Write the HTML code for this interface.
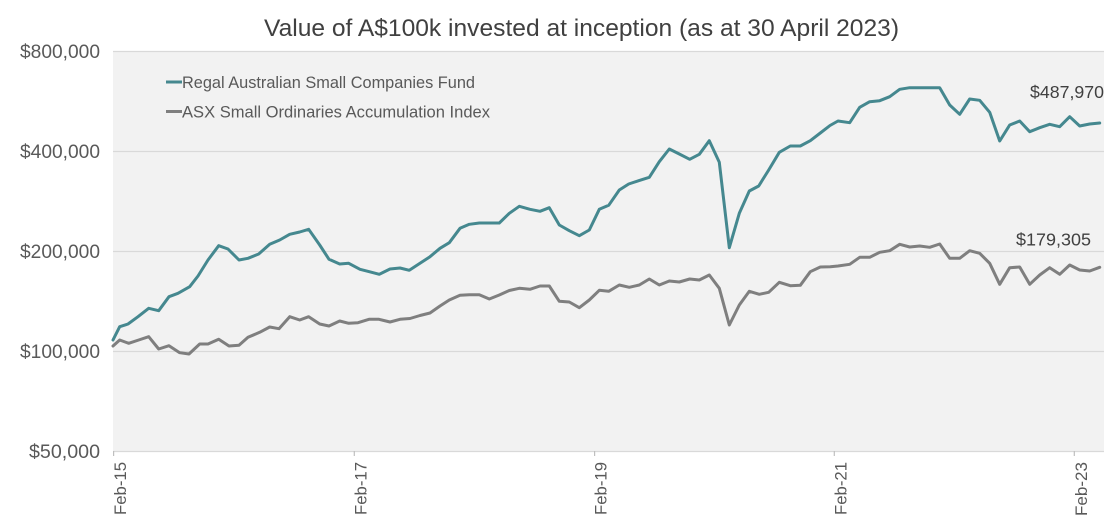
<!DOCTYPE html>
<html>
<head>
<meta charset="utf-8">
<style>
  html, body { margin: 0; padding: 0; background: #ffffff; }
  svg { display: block; }
  text { font-family: "Liberation Sans", "DejaVu Sans", sans-serif; }
</style>
</head>
<body>
<svg width="1120" height="527" viewBox="0 0 1120 527" xmlns="http://www.w3.org/2000/svg">
  <rect x="0" y="0" width="1120" height="527" fill="#ffffff"/>
  <!-- plot area -->
  <rect x="113" y="51" width="991" height="400" fill="#F2F2F2"/>
  <g stroke="#D9D9D9" stroke-width="1.2">
    <line x1="113" y1="51.5" x2="1104" y2="51.5"/>
    <line x1="113" y1="151.5" x2="1104" y2="151.5"/>
    <line x1="113" y1="251.5" x2="1104" y2="251.5"/>
    <line x1="113" y1="351.5" x2="1104" y2="351.5"/>
    <line x1="113" y1="451.5" x2="1104" y2="451.5"/>
  </g>
  <!-- ticks -->
  <g stroke="#BFBFBF" stroke-width="1.2">
    <line x1="113.6" y1="451" x2="113.6" y2="456"/>
    <line x1="354.3" y1="451" x2="354.3" y2="456"/>
    <line x1="594.6" y1="451" x2="594.6" y2="456"/>
    <line x1="834.3" y1="451" x2="834.3" y2="456"/>
    <line x1="1074.3" y1="451" x2="1074.3" y2="456"/>
  </g>

  <!-- title -->
  <text x="264" y="36" font-size="24" fill="#404040" textLength="635" lengthAdjust="spacingAndGlyphs">Value of A$100k invested at inception (as at 30 April 2023)</text>

  <!-- y labels -->
  <g font-size="19" fill="#595959" text-anchor="end">
    <text x="100" y="58" textLength="80" lengthAdjust="spacingAndGlyphs">$800,000</text>
    <text x="100" y="158" textLength="80" lengthAdjust="spacingAndGlyphs">$400,000</text>
    <text x="100" y="258" textLength="80" lengthAdjust="spacingAndGlyphs">$200,000</text>
    <text x="100" y="358" textLength="80" lengthAdjust="spacingAndGlyphs">$100,000</text>
    <text x="100" y="458" textLength="71" lengthAdjust="spacingAndGlyphs">$50,000</text>
  </g>

  <!-- x labels -->
  <g font-size="17" fill="#595959" text-anchor="end">
    <text transform="translate(126,462) rotate(-90)" textLength="53" lengthAdjust="spacingAndGlyphs">Feb-15</text>
    <text transform="translate(366.5,462) rotate(-90)" textLength="53" lengthAdjust="spacingAndGlyphs">Feb-17</text>
    <text transform="translate(606.5,462) rotate(-90)" textLength="53" lengthAdjust="spacingAndGlyphs">Feb-19</text>
    <text transform="translate(846.5,462) rotate(-90)" textLength="53" lengthAdjust="spacingAndGlyphs">Feb-21</text>
    <text transform="translate(1087,462) rotate(-90)" textLength="54" lengthAdjust="spacingAndGlyphs">Feb-23</text>
  </g>

  <!-- legend -->
  <line x1="166" y1="82" x2="182" y2="82" stroke="#45888F" stroke-width="3"/>
  <text x="182" y="88" font-size="16.5" fill="#595959" textLength="293" lengthAdjust="spacingAndGlyphs">Regal Australian Small Companies Fund</text>
  <line x1="166" y1="111.5" x2="182" y2="111.5" stroke="#7F7F7F" stroke-width="3"/>
  <text x="182" y="117.5" font-size="16.5" fill="#595959" textLength="308" lengthAdjust="spacingAndGlyphs">ASX Small Ordinaries Accumulation Index</text>

  <!-- series: index (gray) -->
  <polyline fill="none" stroke="#7F7F7F" stroke-width="3" stroke-linejoin="round" stroke-linecap="round" points="
113,346 119.7,340 128.7,343.3 138.7,340 148.7,336.7 158.7,349 169,345.7 179.7,352.7 189,354 199.7,344 208,344
218.7,339.3 229,346 239,345.3 248,337.3 259.7,332.3 269.7,327 279,328.7 289.7,316.7 299.7,320 308.7,316.7
319.7,324 329,326 339.7,321 348.7,323.3 358,322.7 369,319.3 379,319.3 390,322 400,319.3 410,318.5 420,315.5
430,313 440,306 449.3,300 460,295.3 469.3,294.7 479.3,294.7 489.3,299 499.3,295 509.3,290.5 519.3,288.3
530,289.3 540,286 549.3,286 559.3,301.3 569.3,302 579.3,307.7 589.3,300 599.3,290.3 608.7,291.3 619.3,285
629.3,287.3 639.3,285 649.3,279 659.3,285 669.3,281 679.3,282 689.7,279 699.3,280 709.3,275 719.3,288.3
729.3,325 739.3,305 749.3,291.3 759.3,294.3 768.7,292.3 779.3,282.3 790.3,285.7 800.3,285.3 810.3,271.7
820.3,267 830.3,266.7 838,266 849.7,264.3 859.7,257.3 869.7,257.3 879.7,252.3 889.7,250.7 899.7,244.3
909.7,247 919.7,246 929.7,247.3 939.7,244 949.7,258.3 959.7,258.3 969.7,250.7 979.7,253.3 989.7,263.3
999.7,284.3 1009.7,267.7 1019.7,267 1029.7,284.3 1039.7,275 1049.7,267.7 1059.7,274.3 1069.7,265
1079.7,270 1089.7,271 1099.7,267.3"/>

  <!-- series: fund (teal) -->
  <polyline fill="none" stroke="#45888F" stroke-width="3" stroke-linejoin="round" stroke-linecap="round" points="
113,340 119.7,326.7 128,324 138,316.7 148.7,308.3 158.7,310.7 169,296.7 178,293.3 189.7,286.7 198,276 208,260
218.7,245.7 228,249 239,260 248,258.3 258.7,254 269.7,244.3 279.7,240 289.7,234.3 299.7,232 308.7,229.3
319.7,245 329,259.3 339.7,264 348.7,263.3 360,269.3 369.3,271.7 379.3,274.3 390,269 400,268 409.3,270.3
420,263.3 430,256.7 440,248.3 449.3,242.7 460,228.3 469.3,224.3 479.3,223 489.3,223 499.3,223 509.3,213.3
519.3,206.3 530,209.3 540,211.3 549.3,207.7 559.3,225 569.3,230.7 579.3,235.7 589.3,230 599.3,209.3
608.7,205.3 619.3,190 628.7,184 638.7,180.7 649.3,177.3 659.3,161.7 669.3,149 679.3,154 689.7,159.3
699.3,154.3 709.3,140.7 719.3,162.3 729.3,247.7 739.3,213.3 749.3,191 758.7,186 768.7,170 779.3,152.3
790.3,146 800.3,146 810.3,140.7 820.3,133 830,125.5 838,121 849.7,122.7 859.7,107.3 869.7,101.7 879.7,100.7
889.7,96.7 899.7,89.3 909.7,87.7 939.7,87.7 949.7,105 959.7,114.3 969.7,99 979.7,100.3 989.7,112.3
999.7,141 1009.7,125 1019.7,121 1029.7,131.7 1039.7,127.7 1049.7,124.3 1059.7,126.7 1069.7,116.7
1079.7,126 1089.7,124 1099.7,123"/>

  <!-- end value labels -->
  <text x="1030" y="98" font-size="17.5" fill="#404040" textLength="74" lengthAdjust="spacingAndGlyphs">$487,970</text>
  <text x="1016" y="245.5" font-size="17.5" fill="#404040" textLength="75" lengthAdjust="spacingAndGlyphs">$179,305</text>
</svg>
</body>
</html>
